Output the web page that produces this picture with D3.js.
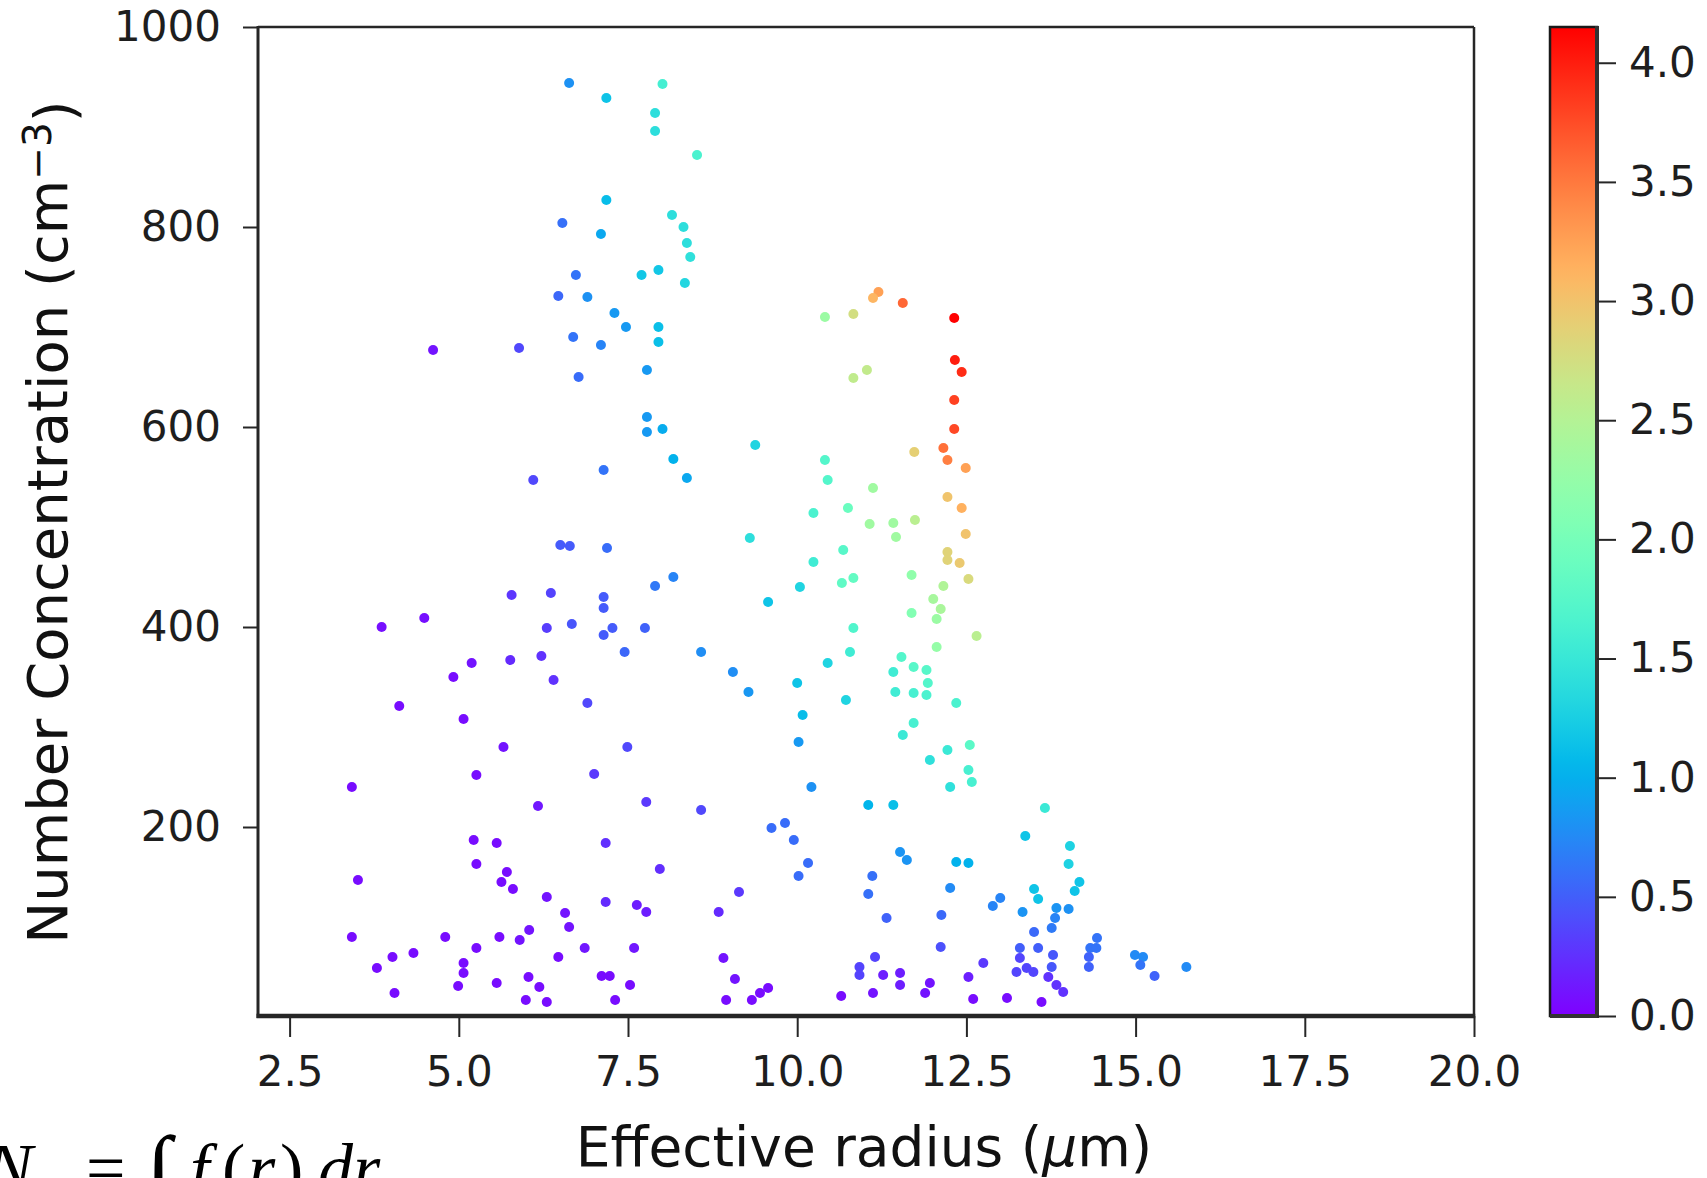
<!DOCTYPE html>
<html><head><meta charset="utf-8">
<script src="https://cdn.jsdelivr.net/npm/d3@7"></script>
<style>html,body{margin:0;padding:0;background:#fff;overflow:hidden}</style>
</head><body>
<svg id="chart" width="1707" height="1178"></svg>
<script>
// ---- data (effective radius µm, number concentration cm^-3, colour value) ----
const radius = [
 6.63,7.18,7.18,6.53,7.10,6.73,6.47,6.90,7.30,7.47,6.69,7.10,4.62,5.89,6.77,
 8.01,7.90,7.90,8.52,8.15,8.32,8.37,8.42,7.70,7.95,8.34,7.95,7.95,7.78,10.41,10.83,11.20,11.12,11.56,10.83,11.03,
 12.32,12.33,12.43,
 7.14,6.10,6.50,6.64,7.19,5.78,6.36,7.14,7.14,4.49,3.86,6.30,6.67,7.27,7.14,7.45,5.19,5.76,6.22,4.92,6.40,6.90,4.12,
 7.78,7.78,8.01,9.38,8.17,8.37,10.41,10.45,11.12,10.24,10.75,11.07,11.42,11.46,11.74,11.73,9.30,10.68,10.24,10.66,10.83,10.04,8.17,7.90,9.57,11.69,11.69,7.75,10.83,8.58,10.78,9.05,10.45,11.54,11.72,11.42,11.45,11.72,9.28,10.00,10.72,10.08,
 12.32,12.32,12.16,12.22,12.49,12.22,12.43,12.49,12.22,12.22,12.40,12.53,12.16,12.01,12.12,12.06,12.65,12.06,11.91,11.93,11.91,12.35,
 5.07,5.66,7.49,5.26,7.00,3.42,6.17,5.22,5.56,7.17,5.26,3.51,5.71,5.63,5.80,6.30,7.17,6.57,6.63,3.42,4.80,5.60,6.04,5.90,5.26,6.86,6.47,7.59,4.02,4.33,3.79,5.07,5.07,4.99,5.56,6.03,6.19,7.11,7.23,7.53,4.05,5.99,6.30,7.31,
 10.02,11.72,11.56,10.21,7.77,8.58,11.05,11.42,9.62,9.82,9.95,11.52,11.62,7.97,10.16,10.02,11.11,11.05,9.14,11.32,7.63,7.77,8.84,8.91,11.15,10.92,10.92,11.27,11.52,11.52,9.08,10.65,11.12,8.95,9.33,9.45,9.57,
 12.22,11.96,12.55,12.53,12.58,12.26,13.66,13.37,14.03,14.01,12.35,12.53,12.26,13.00,12.89,13.50,13.56,14.17,14.10,13.33,13.83,14.01,13.81,13.76,12.13,13.50,14.43,14.33,14.42,12.12,13.29,13.56,13.78,13.76,14.99,15.11,15.07,15.28,15.75,14.31,14.31,12.75,13.29,13.39,13.49,13.24,13.71,13.83,13.93,12.53,11.96,11.89,12.60,13.10,13.61
];
const concentration = [
 944,929,827,804,793,752,731,730,714,700,690,682,677,679,650,
 943,914,896,872,812,800,784,770,752,757,744,700,685,657,710,713,735,729,724,649,657,
 709,667,655,
 557,547,482,481,479,432,434,430,419,409,400,399,403,399,392,375,364,367,371,350,347,324,321,
 610,595,598,582,568,549,567,547,539,514,519,503,504,490,507,575,489,477,465,444,449,440,450,441,425,452,414,399,399,375,375,355,364,370,360,355,335,334,335,344,327,312,
 627,598,579,567,559,530,519,493,475,467,464,448,441,428,418,408,391,380,357,344,332,324,
 308,280,280,252,253,240,221,187,184,184,163,147,155,145,138,130,125,114,100,90,90,90,97,87,79,79,70,79,70,74,59,64,54,41,44,50,40,51,51,42,34,27,25,27,
 285,304,292,240,225,217,222,222,199,204,187,175,167,158,164,151,151,133,135,109,122,115,115,69,70,60,52,52,54,42,48,31,34,27,27,34,39,
 277,267,282,257,245,240,219,191,181,163,165,164,139,129,121,138,128,145,136,115,119,118,109,99,112,95,89,79,79,80,79,79,72,60,72,70,62,51,60,70,60,64,69,59,55,55,50,42,35,50,44,34,28,29,25
];
const colourValue = [
 0.80,1.15,1.10,0.60,0.95,0.62,0.55,0.80,0.85,0.85,0.62,0.72,0.10,0.38,0.58,
 1.60,1.40,1.40,1.65,1.40,1.40,1.40,1.42,1.18,1.18,1.32,1.12,1.12,0.85,2.30,2.75,3.25,3.10,3.60,2.60,2.62,
 4.15,4.00,3.92,
 0.62,0.38,0.48,0.48,0.58,0.28,0.35,0.48,0.48,0.08,0.08,0.32,0.45,0.48,0.48,0.55,0.10,0.22,0.26,0.06,0.26,0.38,0.06,
 0.85,0.85,0.98,1.30,1.02,0.95,1.72,1.72,2.34,1.65,1.90,2.34,2.34,2.34,2.55,2.90,1.40,1.75,1.56,1.82,1.85,1.30,0.72,0.65,1.16,2.21,2.10,0.52,1.70,0.78,1.56,0.78,1.30,1.72,1.75,1.56,1.56,1.62,0.84,1.16,1.30,1.10,
 3.81,3.77,3.55,3.46,3.25,2.99,3.14,3.00,2.86,2.86,2.95,2.80,2.47,2.40,2.42,2.30,2.55,2.25,1.75,1.72,1.65,1.65,
 0.06,0.10,0.38,0.06,0.30,0.06,0.12,0.06,0.06,0.25,0.06,0.06,0.06,0.06,0.06,0.10,0.22,0.10,0.10,0.06,0.06,0.06,0.10,0.10,0.06,0.12,0.06,0.12,0.06,0.06,0.06,0.06,0.06,0.06,0.06,0.06,0.06,0.06,0.06,0.06,0.06,0.06,0.06,0.06,
 0.85,1.62,1.52,0.80,0.30,0.38,1.04,1.12,0.58,0.58,0.58,0.82,0.82,0.24,0.58,0.58,0.60,0.60,0.30,0.52,0.15,0.15,0.22,0.10,0.35,0.35,0.35,0.15,0.15,0.15,0.10,0.06,0.10,0.06,0.06,0.06,0.06,
 1.52,1.42,1.78,1.62,1.62,1.42,1.52,1.16,1.28,1.28,1.02,1.02,0.76,0.72,0.72,1.16,1.16,1.16,1.16,0.82,0.82,0.80,0.72,0.66,0.56,0.56,0.62,0.62,0.62,0.42,0.50,0.50,0.46,0.46,0.76,0.76,0.62,0.52,0.76,0.52,0.52,0.30,0.36,0.36,0.36,0.36,0.26,0.26,0.26,0.16,0.10,0.10,0.06,0.06,0.06
];
const xTicks = [2.5, 5, 7.5, 10, 12.5, 15, 17.5, 20];
const yTicks = [200, 400, 600, 800, 1000];
const cTicks = [0, 0.5, 1, 1.5, 2, 2.5, 3, 3.5, 4];
const xDomain = [2.033, 20];
const yDomain = [11, 1000];
const cDomain = [0, 4.15];

// ---- layout ----
const svg = d3.select("#chart");
const P = {left:258, right:1474, top:27, bottom:1016};
const CB = {left:1550, right:1597, top:27, bottom:1016};
const FONT = "'DejaVu Sans', sans-serif";
const INK = "#262626";

const x = d3.scaleLinear().domain(xDomain).range([P.left, P.right]);
const y = d3.scaleLinear().domain(yDomain).range([P.bottom, P.top]);
const cy = d3.scaleLinear().domain(cDomain).range([CB.bottom, CB.top]);

function rainbow(t) {
  t = Math.max(0, Math.min(1, t));
  const r = Math.min(1, Math.abs(2*t - 0.5));
  const g = Math.sin(Math.PI*t);
  const b = Math.cos(Math.PI*t/2);
  return d3.rgb(r*255, g*255, b*255).formatHex();
}
const colour = v => rainbow((v - cDomain[0]) / (cDomain[1] - cDomain[0]));

const data = radius.map((r, i) => ({r, n: concentration[i], c: colourValue[i]}));

// points
svg.append("g").selectAll("circle").data(data).join("circle")
  .attr("cx", d => x(d.r)).attr("cy", d => y(d.n)).attr("r", 5)
  .attr("fill", d => colour(d.c));

// spines
const sp = svg.append("g").attr("stroke", INK).attr("fill", "none");
sp.append("line").attr("x1", P.left).attr("x2", P.right).attr("y1", P.top).attr("y2", P.top).attr("stroke-width", 2.5);
sp.append("line").attr("x1", P.right).attr("x2", P.right).attr("y1", P.top).attr("y2", P.bottom).attr("stroke-width", 2.5);
sp.append("line").attr("x1", P.left).attr("x2", P.left).attr("y1", P.top-1).attr("y2", P.bottom+2).attr("stroke-width", 3);
sp.append("line").attr("x1", P.left-1.5).attr("x2", P.right+1.2).attr("y1", P.bottom).attr("y2", P.bottom).attr("stroke-width", 4.5);

// axes
function styleAxis(g) {
  g.select(".domain").remove();
  g.selectAll(".tick line").attr("stroke", INK).attr("stroke-width", 2);
  g.selectAll(".tick text").attr("fill", "#1e1e1e").style("font-family", FONT).style("font-size", "42px");
}
svg.append("g").attr("transform", `translate(0,${P.bottom})`)
  .call(d3.axisBottom(x).tickValues(xTicks).tickFormat(d3.format(".1f")).tickSize(21).tickPadding(19))
  .call(styleAxis);
svg.append("g").attr("transform", `translate(${P.left},0)`)
  .call(d3.axisLeft(y).tickValues(yTicks).tickFormat(d3.format("d")).tickSize(15).tickPadding(22))
  .call(styleAxis);

// axis labels
svg.append("text").attr("transform", `translate(864,1166)`).attr("text-anchor", "middle")
  .style("font-family", FONT).style("font-size", "55px").attr("fill", "#111")
  .call(t => { t.append("tspan").text("Effective radius (");
               t.append("tspan").attr("font-style", "italic").text("μ");
               t.append("tspan").text("m)"); });
svg.append("text").attr("transform", `translate(67,522) rotate(-90)`).attr("text-anchor", "middle")
  .style("font-family", FONT).style("font-size", "56px").attr("fill", "#111")
  .call(t => { t.append("tspan").text("Number Concentration (cm");
               t.append("tspan").attr("dy", "-0.42em").attr("font-size", "39px").text("−3");
               t.append("tspan").attr("dy", "0.42em").text(")"); });

// colorbar
const defs = svg.append("defs");
const grad = defs.append("linearGradient").attr("id", "cbar").attr("x1", 0).attr("x2", 0).attr("y1", 1).attr("y2", 0);
d3.range(0, 1.0001, 0.02).forEach(t => grad.append("stop").attr("offset", t).attr("stop-color", rainbow(t)));
svg.append("rect").attr("x", CB.left).attr("y", CB.top).attr("width", CB.right-CB.left).attr("height", CB.bottom-CB.top)
  .attr("fill", "url(#cbar)").attr("stroke", "#1a1a1a").attr("stroke-width", 2.5);
svg.append("line").attr("x1", CB.right).attr("x2", CB.right).attr("y1", CB.top-1).attr("y2", CB.bottom+2)
  .attr("stroke", "#333").attr("stroke-width", 4);
svg.append("line").attr("x1", CB.left).attr("x2", CB.right+2).attr("y1", CB.bottom).attr("y2", CB.bottom)
  .attr("stroke", "#333").attr("stroke-width", 4);
svg.append("g").attr("transform", `translate(${CB.right},0)`)
  .call(d3.axisRight(cy).tickValues(cTicks).tickFormat(d3.format(".1f")).tickSize(19).tickPadding(13))
  .call(styleAxis);

// formula fragment at bottom-left (cut by the picture edge, as in the source)
const fm = svg.append("g").style("font-family", "'Liberation Serif', serif").attr("fill", "#000");
fm.append("text").attr("x", -14).attr("y", 1192).style("font-size", "70px").attr("font-style", "italic").text("N");
fm.append("text").attr("x", 86).attr("y", 1192).style("font-size", "70px").text("=");
fm.append("text").attr("x", 146).attr("y", 1200).style("font-size", "92px").text("∫");
fm.append("text").attr("x", 190).attr("y", 1192).style("font-size", "70px").attr("font-style", "italic").text("f");
fm.append("text").attr("x", 222).attr("y", 1192).style("font-size", "70px").text("(");
fm.append("text").attr("x", 248).attr("y", 1192).style("font-size", "70px").attr("font-style", "italic").text("r");
fm.append("text").attr("x", 280).attr("y", 1192).style("font-size", "70px").text(")");
fm.append("text").attr("x", 318).attr("y", 1192).style("font-size", "70px").attr("font-style", "italic").text("dr");
</script>
</body></html>
